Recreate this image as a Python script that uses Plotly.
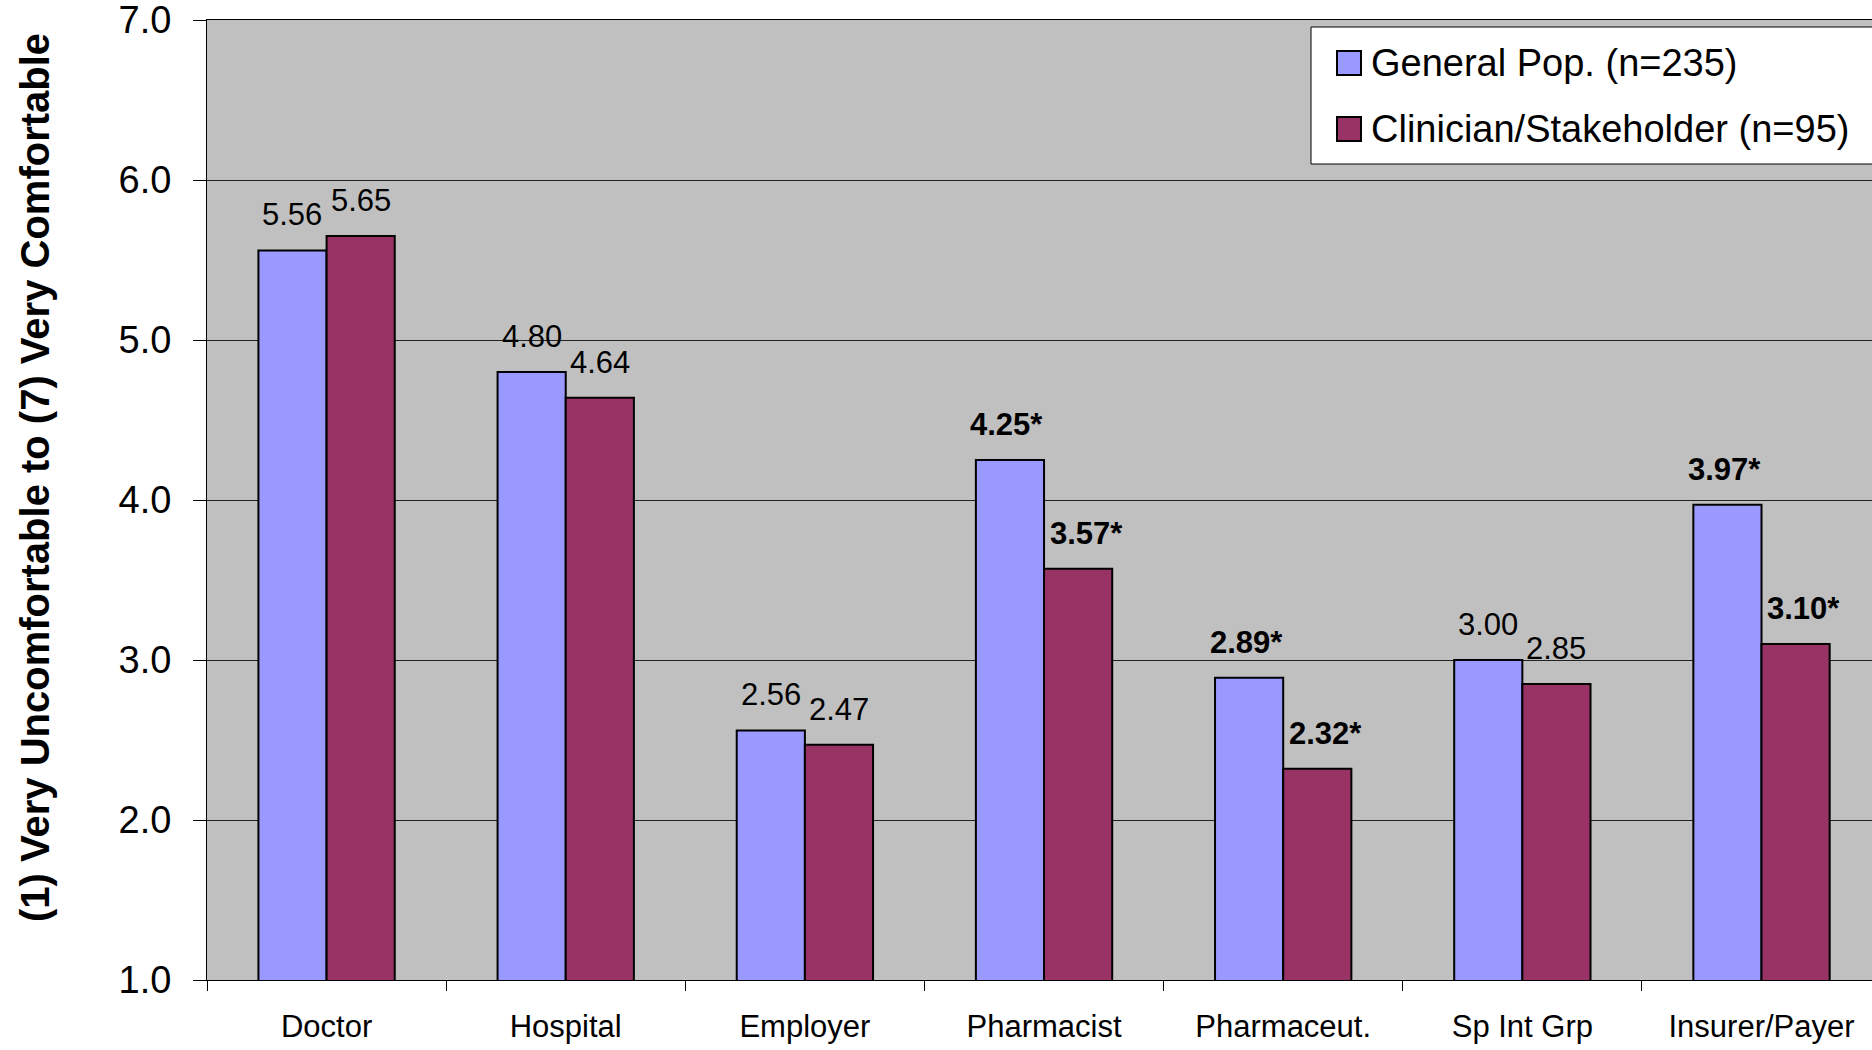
import plotly.graph_objects as go

categories = ["Doctor", "Hospital", "Employer", "Pharmacist", "Pharmaceut.", "Sp Int Grp", "Insurer/Payer"]
series_names = ["General Pop. (n=235)", "Clinician/Stakeholder (n=95)"]
general_pop = [5.56, 4.80, 2.56, 4.25, 2.89, 3.00, 3.97]
clinician = [5.65, 4.64, 2.47, 3.57, 2.32, 2.85, 3.10]
general_sig = [False, False, False, True, True, False, True]
clinician_sig = [False, False, False, True, True, False, True]
y_ticks = [1, 2, 3, 4, 5, 6, 7]
y_title = "(1) Very Uncomfortable to (7) Very Comfortable"

colors = ["#9999FF", "#993366"]
FONT = "Liberation Sans, Arial, sans-serif"

W, H = 1872, 1050
ML, MR, MT, MB = 207, 0, 20, 70
PW, PH = W - ML - MR, H - MT - MB


def px_x(x):
    return (x - ML) / PW


def px_y(y):
    return (H - MB - y) / PH


fig = go.Figure()
for name, vals, col in zip(series_names, [general_pop, clinician], colors):
    fig.add_trace(go.Bar(
        x=categories, y=vals, name=name, showlegend=False,
        marker=dict(color=col, line=dict(color="black", width=2)),
    ))

# category width in px
cat_px = 239.2
bar_px = cat_px * 0.57 / 2
annotations = []
for vals, sig, sign, bshift in [(general_pop, general_sig, -1, -3), (clinician, clinician_sig, 1, 8)]:
    for c, v, s in zip(categories, vals, sig):
        txt = f"<b>{v:.2f}*</b>" if s else f"{v:.2f}"
        annotations.append(dict(
            x=c, y=v, xref="x", yref="y", text=txt, showarrow=False,
            xanchor="center", yanchor="bottom",
            xshift=sign * bar_px / 2 + (bshift if s else 0), yshift=16,
            font=dict(family=FONT, size=31, color="black"),
        ))

annotations.append(dict(
    x=px_x(35), y=px_y(478), xref="paper", yref="paper", text=f"<b>{y_title}</b>",
    textangle=-90, showarrow=False, xanchor="center", yanchor="middle",
    font=dict(family=FONT, size=40, color="black"),
))

# manual legend
shapes = [dict(type="rect", xref="paper", yref="paper",
               x0=px_x(1311), x1=px_x(1885), y0=px_y(164), y1=px_y(27),
               fillcolor="white", line=dict(color="black", width=1), layer="above")]
legend_rows = [63, 129]
for name, col, yc in zip(series_names, colors, legend_rows):
    shapes.append(dict(type="rect", xref="paper", yref="paper",
                       x0=px_x(1337), x1=px_x(1361), y0=px_y(yc + 12), y1=px_y(yc - 12),
                       fillcolor=col, line=dict(color="black", width=2), layer="above"))
    annotations.append(dict(x=px_x(1369), y=px_y(yc), xref="paper", yref="paper",
                            text=name, showarrow=False, xanchor="left", yanchor="middle",
                            font=dict(family=FONT, size=38, color="black")))

fig.update_layout(
    width=W, height=H,
    margin=dict(l=ML, r=MR, t=MT, b=MB),
    paper_bgcolor="white", plot_bgcolor="#C0C0C0",
    barmode="group", bargap=0.43, bargroupgap=0,
    showlegend=False,
    annotations=annotations, shapes=shapes,
    font=dict(family=FONT, color="black"),
)
fig.update_xaxes(
    range=[-0.5, 6.462], showline=True, linecolor="black", linewidth=1, mirror=True,
    ticks="outside", tickson="boundaries", ticklen=10, tickcolor="black",
    tickfont=dict(family=FONT, size=31, color="black"), ticklabelstandoff=19,
    showgrid=False,
)
fig.update_yaxes(
    range=[1, 7.0005], tickvals=y_ticks, ticktext=[f"{t:.1f}" for t in y_ticks],
    showline=True, linecolor="black", linewidth=1,
    ticks="outside", ticklen=13, tickcolor="black", ticklabeloverflow="allow",
    tickfont=dict(family=FONT, size=38, color="black"), ticklabelstandoff=14,
    showgrid=True, gridcolor="#222222", gridwidth=1, zeroline=False,
)

fig.write_html("out.html")
